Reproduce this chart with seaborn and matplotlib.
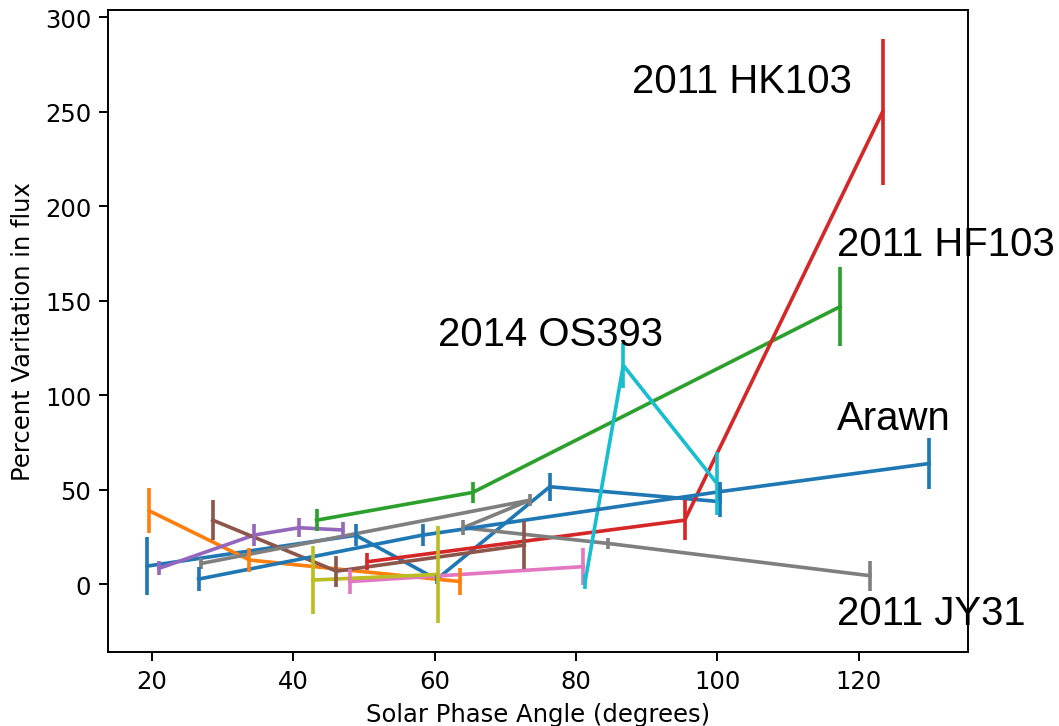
"""
Percent variation in flux vs solar phase angle, one line per object
with vertical error bars and a few labelled objects.
"""

import numpy as np
import pandas as pd
import matplotlib
matplotlib.use("Agg")
import matplotlib.pyplot as plt
import seaborn as sns

# DATOS

ids = ["A", "B", "C", "D", "E", "F", "G", "H", "I", "J", "K"]

angle_a = [19.35, 48.85, 60.3, 76.3, 100.4]
flux_a = [9.5, 25.8, 2.5, 51.5, 43.6]
err_a = [15.4, 5.8, 2.5, 7.4, 8.0]

angle_b = [19.6, 33.8, 63.6]
flux_b = [38.8, 12.7, 1.3]
err_b = [12.0, 6.6, 7.0]

angle_c = [43.3, 65.4, 117.4]          # 2011 HF103
flux_c = [33.8, 48.5, 146.9]
err_c = [5.7, 5.5, 21.0]

angle_d = [50.5, 95.4, 123.4]          # 2011 HK103
flux_d = [11.8, 33.8, 250.0]
err_d = [4.5, 10.5, 38.5]

angle_e = [21.0, 34.45, 40.8, 46.97]
flux_e = [8.3, 25.9, 29.8, 28.6]
err_e = [3.7, 6.0, 5.0, 4.0]

angle_f = [28.6, 46.1, 72.7]
flux_f = [33.8, 6.8, 20.6]
err_f = [10.5, 8.2, 12.5]

angle_g = [48.0, 81.05]
flux_g = [1.3, 9.2]
err_g = [6.6, 9.7]

angle_h = [27.0, 73.5, 64.05, 84.5, 121.6]   # 2011 JY31
flux_h = [10.9, 44.4, 29.8, 21.5, 4.4]
err_h = [3.0, 3.0, 4.0, 3.0, 8.0]

angle_i = [42.8, 60.5]
flux_i = [2.1, 5.1]
err_i = [18.0, 25.5]

angle_j = [81.3, 86.7, 99.95]          # 2014 OS393
flux_j = [1.3, 115.8, 53.3]
err_j = [4.0, 12.0, 16.7]

angle_k = [26.6, 58.3, 100.4, 130.0]   # Arawn
flux_k = [2.6, 25.9, 48.9, 63.8]
err_k = [6.3, 5.7, 5.0, 13.7]

labels = ["2011 HK103", "2011 HF103", "2014 OS393", "Arawn", "2011 JY31"]
label_x = [87.9, 117.0, 60.5, 116.9, 117.0]
label_y = [260.4, 174.0, 126.8, 82.3, -21.3]

# TABLA

angles = [angle_a, angle_b, angle_c, angle_d, angle_e, angle_f,
          angle_g, angle_h, angle_i, angle_j, angle_k]
fluxes = [flux_a, flux_b, flux_c, flux_d, flux_e, flux_f,
          flux_g, flux_h, flux_i, flux_j, flux_k]
errors = [err_a, err_b, err_c, err_d, err_e, err_f,
          err_g, err_h, err_i, err_j, err_k]

frames = []
for name, xs, ys, es in zip(ids, angles, fluxes, errors):
    frames.append(pd.DataFrame({
        "obj": name,
        "order": np.arange(len(xs)),
        "angle": xs,
        "flux": ys,
        "err": es,
    }))
df = pd.concat(frames, ignore_index=True)

tab10 = sns.color_palette("tab10", 10)
palette = {name: tab10[i % 10] for i, name in enumerate(ids)}

# FIGURA

DPI = 175
fig = plt.figure(figsize=(1059 / DPI, 727 / DPI), dpi=DPI)
ax = fig.add_axes([108.3 / 1059, (727 - 652.7) / 727,
                   860 / 1059, (652.7 - 11) / 727])

sns.lineplot(
    data=df,
    x="angle",
    y="flux",
    hue="obj",
    units="obj",
    estimator=None,
    sort=False,
    palette=palette,
    linewidth=1.5,
    legend=False,
    ax=ax,
)

for name in ids:
    sub = df[df["obj"] == name]
    ax.errorbar(sub["angle"], sub["flux"], yerr=sub["err"],
                fmt="none", ecolor=palette[name], elinewidth=1.5)

for txt, tx, ty in zip(labels, label_x, label_y):
    ax.text(tx, ty, txt, fontsize=16.5, family="Liberation Sans",
            color="black")

ax.set_xticks([20, 40, 60, 80, 100, 120])
ax.set_yticks([0, 50, 100, 150, 200, 250, 300])
ax.set_xlabel("Solar Phase Angle (degrees)", fontsize=10)
ax.set_ylabel("Percent Varitation in flux", fontsize=10)
ax.tick_params(labelsize=10)

fig.savefig("out.png", dpi=DPI)
